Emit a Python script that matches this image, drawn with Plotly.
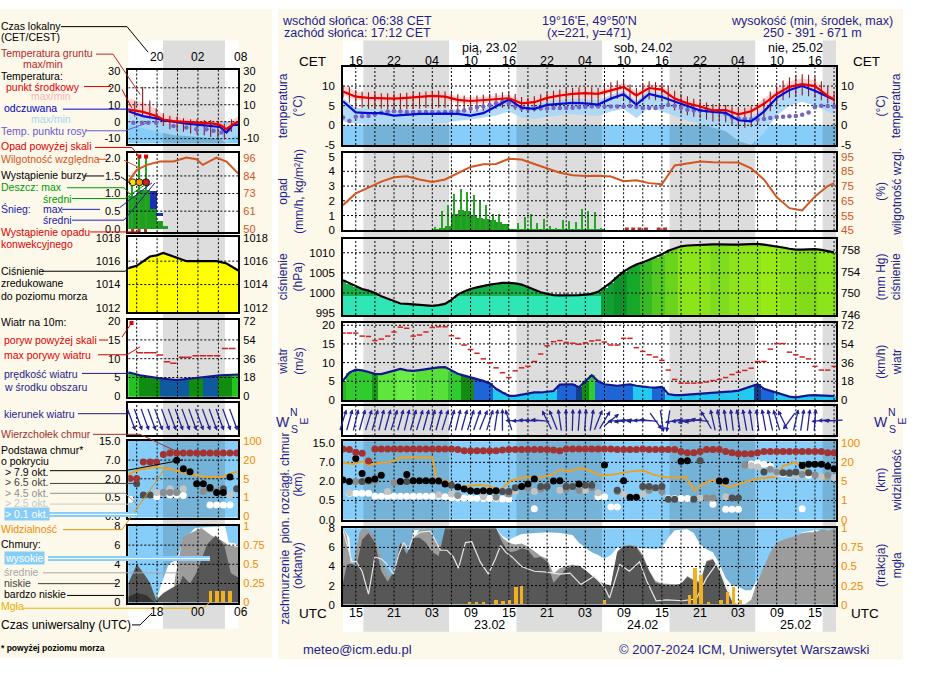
import numpy as np
import plotly.graph_objects as go

W, H = 930, 682
FONT = "Liberation Sans, Arial, Helvetica, sans-serif"
NAVY = "#1e1e8c"
ARROWC = "#24249a"
ORANGE = "#f08c00"
HUMC = "#d2561f"
CREAM = "#fcf8ea"
SKY = "#86cef9"
NIGHT = "rgba(0,0,0,0.135)"
TS_MAIN = 11.5
TS_MINI = 11
LEG_FS = 10.5

# ====================== DATA (main meteogram) ======================
hours = list(range(78))                      # hours since 22.02 13 UTC
t_knots = list(range(0, 77, 2)) + [77]

temp_mid = [8.6, 7.3, 7.0, 6.9, 6.8, 7.0, 7.2, 7.5, 7.3, 6.5, 6.2, 6.4, 6.7, 6.9, 5.6, 5.9, 7.0, 7.6, 8.0, 8.2,
            8.0, 8.9, 9.8, 7.6, 9.5, 9.1, 6.8, 5.6, 4.8, 3.8, 3.9, 2.8, 3.6, 5.5, 8.0, 9.8, 10.5, 10.0, 7.5, 6.6]
temp_max = [10.3, 8.6, 7.9, 7.8, 7.7, 7.9, 8.1, 8.4, 8.2, 7.4, 7.1, 7.3, 7.6, 7.8, 6.6, 6.8, 7.9, 8.5, 8.9, 9.1,
            8.9, 9.8, 10.8, 8.6, 10.5, 10.1, 7.8, 6.6, 5.8, 4.8, 4.9, 3.9, 4.8, 6.8, 9.3, 11.2, 12.0, 11.5, 8.8, 7.8]
temp_min = [7.6, 6.5, 6.2, 6.1, 6.0, 6.2, 6.4, 6.7, 6.5, 5.7, 5.4, 5.6, 5.9, 6.1, 4.8, 5.1, 6.2, 6.8, 7.2, 7.4,
            7.2, 8.1, 9.0, 6.8, 8.7, 8.3, 6.0, 4.8, 4.0, 3.0, 3.1, 1.9, 2.6, 4.3, 6.8, 8.8, 9.5, 9.0, 6.6, 5.6]
feel_mid = [6.1, 3.3, 3.1, 3.1, 2.5, 2.7, 2.9, 2.9, 3.0, 2.9, 2.5, 3.1, 4.8, 6.6, 4.5, 4.2, 5.2, 5.5, 5.7, 5.6,
            5.3, 6.8, 7.9, 5.3, 8.0, 7.2, 6.0, 4.8, 3.8, 3.4, 3.2, 1.3, 1.0, 3.5, 7.0, 9.0, 10.0, 8.8, 7.2, 6.5]
feel_max = [7.0, 4.5, 4.2, 4.1, 3.6, 3.8, 4.0, 4.0, 4.1, 4.0, 3.6, 4.2, 5.8, 7.4, 5.6, 5.3, 6.2, 6.5, 6.7, 6.6,
            6.3, 7.8, 8.9, 6.4, 9.0, 8.2, 7.0, 5.9, 4.9, 4.5, 4.3, 2.5, 2.2, 4.6, 8.0, 10.0, 11.0, 9.8, 8.2, 7.5]
feel_min = [1.0, 0.5, 0.3, 0.2, 0.0, 0.2, 0.3, 0.4, 0.6, 1.2, 1.5, 2.0, 2.5, 3.5, 2.0, 1.6, 2.2, 2.6, 2.8, 2.6,
            2.4, 3.5, 4.2, 1.8, 4.5, 3.6, 2.4, 1.2, 0.4, -0.5, -1.5, -4.0, -5.0, -2.0, 2.5, 5.0, 6.0, 5.0, 3.5, 2.8]
dew_point = [2.0, 1.1, 2.2, 2.3, 2.4, 2.8, 3.2, 3.5, 3.6, 3.5, 3.4, 3.4, 3.4, 3.4, 3.4, 3.3, 3.4, 3.5, 3.6, 3.8,
             4.2, 4.6, 4.8, 5.2, 5.6, 6.1, 5.6, 4.8, 4.3, 4.2, 4.2, 4.3, 4.3, 4.4, 4.4, 4.4, 4.5, 4.6, 4.7, 4.8,
             4.8, 4.8, 4.8, 4.8, 4.8, 4.9, 4.7, 4.4, 4.4, 4.4, 4.6, 5.2, 5.0, 4.5, 4.0, 3.8, 3.8, 3.7, 3.6, 3.5,
             2.8, 2.0, 1.8, 1.6, 1.5, 1.5, 1.6, 1.9, 2.1, 2.2, 2.3, 2.4, 2.7, 3.3, 4.6, 5.0, 4.9, 4.8]
ground_max = [10.2, 9.8, 9.0, 8.6, 8.4, 8.3, 8.2, 8.2, 8.1, 8.2, 8.3, 8.4, 8.5, 8.6, 8.8, 8.8, 8.6, 8.3, 7.9, 7.6,
              7.5, 7.6, 7.8, 8.0, 8.2, 8.4, 8.5, 8.0, 7.2, 7.0, 7.4, 7.9, 8.4, 8.8, 9.1, 9.4, 9.6, 9.7, 9.8, 9.7,
              9.6, 10.4, 11.0, 11.4, 11.6, 10.4, 9.6, 10.6, 11.2, 11.0, 10.6, 9.8, 8.8, 8.0, 7.4, 6.8, 6.3, 5.8, 5.4, 5.2,
              5.2, 4.8, 4.4, 4.5, 4.8, 5.4, 6.8, 8.6, 10.0, 11.4, 12.2, 12.8, 13.0, 12.9, 12.4, 11.2, 9.8, 8.6]
ground_min = [7.0, 5.8, 4.8, 4.4, 4.2, 4.2, 4.2, 4.1, 4.0, 4.0, 4.1, 4.2, 4.3, 4.4, 4.5, 4.5, 4.4, 4.2, 3.8, 3.5,
              3.4, 3.5, 3.6, 3.9, 4.2, 4.5, 4.6, 4.0, 3.4, 3.3, 3.5, 4.0, 4.4, 4.8, 5.0, 5.2, 5.3, 5.4, 5.4, 5.3,
              5.2, 5.8, 6.4, 6.8, 6.6, 5.6, 5.2, 6.0, 6.6, 6.4, 6.0, 5.0, 3.8, 3.0, 2.6, 2.2, 1.8, 1.4, 1.0, 0.8,
              0.8, 0.2, -0.4, -0.6, -0.4, 0.4, 2.0, 3.6, 5.2, 6.4, 7.0, 7.4, 7.6, 7.4, 7.0, 6.4, 5.6, 5.0]

humidity = [62, 70, 74, 78, 81, 81.6, 79.5, 77.8, 79.5, 83.5, 88, 89.8, 90, 93.5, 93, 90, 87, 84, 82.3, 81.8,
            82, 81.5, 78.3, 79, 77, 76.2, 89, 90.5, 91.6, 91.2, 91.2, 91.0, 87, 79.5, 67.5, 60, 58.5, 68, 75, 77]
rain_mean_h = list(range(14, 41))
rain_mean = [0.05, 0.1, 0.3, 1.1, 1.32, 1.28, 0.95, 0.8, 0.76, 0.65, 0.55, 0.42, 0.06, 0.04, 0.05, 0.05, 0.04,
             0.05, 0.03, 0.02, 0.04, 0.04, 0.04, 0.06, 0.06, 0.05, 0.02]
rain_max_h = [14.5, 15.5, 16.5, 17.5, 18.5, 19.5, 20.5, 21.5, 22.5, 23.5, 24.5, 25.5,
              27.5, 28.5, 29.5, 30.5, 31.5, 32.5, 33.5, 34.5, 35.5, 36.5, 37.5, 38.5, 39.5, 40.5]
rain_max = [0.2, 1.27, 1.7, 2.44, 2.77, 2.55, 2.37, 2.0, 1.67, 1.1, 1.05, 0.25,
            0.44, 0.9, 1.05, 0.5, 0.75, 0.3, 0.15, 0.64, 0.6, 0.55, 1.4, 1.3, 1.25, 0.1]
convective_h = [44.5, 45.5, 46.5, 47.5, 49.5, 50.5]

pressure = [1003.2, 1002.4, 1001.6, 1001.0, 1000.6, 1000.0, 999.2, 998.6, 997.9, 997.4,
            997.3, 997.2, 997.1, 997.0, 996.8, 997.0, 997.3, 998.3, 999.6, 1000.4,
            1001.0, 1001.4, 1001.8, 1002.1, 1002.3, 1002.5, 1002.5, 1002.4, 1002.1, 1001.5,
            1000.8, 1000.2, 999.8, 999.5, 999.4, 999.4, 999.4, 999.5, 999.6, 999.8,
            1000.3, 1001.4, 1002.6, 1004.0, 1005.3, 1006.3, 1007.1, 1007.6, 1008.2, 1008.8,
            1009.6, 1010.5, 1011.1, 1011.6, 1011.8, 1011.9, 1012.0, 1012.1, 1012.1, 1012.1,
            1012.0, 1012.0, 1012.0, 1012.1, 1012.2, 1012.2, 1012.0, 1011.8, 1011.6, 1011.3,
            1011.0, 1010.8, 1010.8, 1010.9, 1010.9, 1010.7, 1010.4, 1010.1]

wind_speed = [5.1, 7.3, 8.1, 7.9, 7.5, 7.0, 6.9, 7.3, 7.9, 8.3, 7.9, 7.8, 8.0, 8.3, 8.6, 8.7, 8.8, 7.8, 7.0, 6.5,
              6.1, 5.7, 5.1, 4.4, 3.0, 2.0, 1.1, 1.1, 1.4, 1.7, 2.0, 2.0, 2.1, 2.4, 4.1, 4.2, 4.2, 3.4, 5.0, 6.6,
              5.0, 4.2, 4.0, 3.8, 4.0, 4.2, 3.8, 3.5, 3.4, 3.3, 3.5, 1.6, 1.3, 1.3, 1.4, 1.5, 1.6, 1.7, 1.8, 2.0,
              2.2, 2.3, 2.5, 3.0, 3.6, 4.2, 3.0, 2.5, 2.0, 1.4, 0.9, 0.7, 1.0, 1.2, 1.3, 1.2, 1.0, 1.0]
wind_gust = [17.9, 17.9, 17.9, 17.1, 17.0, 15.9, 16.3, 17.1, 18.2, 19.5, 19.2, 17.1, 17.4, 18.2, 19.4, 19.6, 19.6, 17.2, 16.5, 14.7,
             13.5, 12.5, 11.0, 9.9, 8.6, 7.3, 6.0, 7.8, 8.6, 9.0, 10.3, 12.3, 14.5, 15.6, 15.9, 15.4, 15.2, 14.9, 15.3, 15.8,
             16.0, 15.5, 14.7, 14.7, 16.5, 16.5, 14.0, 13.0, 12.1, 11.5, 10.6, 8.0, 5.5, 4.5, 4.5, 4.5, 4.6, 4.8, 5.2, 5.5,
             6.0, 6.8, 7.4, 7.9, 8.5, 10.3, 10.3, 13.6, 15.1, 15.1, 12.8, 12.1, 11.5, 11.0, 9.0, 8.0, 8.0, 9.0]
wind_dir = [200, 198, 196, 198, 200, 198, 196, 198, 200, 198, 196, 198, 200, 198, 196, 198, 200, 198, 196, 198,
            200, 202, 205, 200, 190, 180, 160, 90, 88, 92, 90, 95, 150, 155, 170, 178, 182, 185, 185, 190,
            205, 215, 235, 85, 82, 88, 85, 90, 95, 320, 350, 10, 80, 85, 78, 82, 95, 145, 165, 168,
            170, 172, 170, 168, 170, 172, 168, 165, 160, 150, 40, 195, 190, 188, 185, 85, 90, 88]

cloud_top = [12.6, 12.4, 11.2, 10.8, 7.6, 12.6, 12.6, 12.6, 12.6, 12.6, 12.6, 12.6, 12.6, 12.6, 12.6, 12.6, 12.6, 12.6, 12.4, 11.9,
             11.9, 11.9, 11.9, 11.9, 11.9, 12.2, 12.4, 12.4, 12.4, 12.4, 12.4, 12.4, 12.4, 12.2, 11.9, 12.6, 12.6, 12.6, 12.6, 12.6,
             12.6, 12.6, 12.6, 12.4, 12.4, 12.4, 12.4, 12.6, 12.4, 12.4, 12.4, 12.4, 12.4, 11.6, 11.0, 11.0, 11.6, 12.4, 12.4, 12.4,
             11.6, 11.0, 10.6, 10.6, 10.6, 11.0, 11.6, 11.6, 11.6, 11.6, 11.6, 11.6, 11.6, 11.6, 11.6, 11.6, 11.0, 11.0]
base_black = [(0, 2.4), (1, 2.0), (2, 8.6), (3, 4.1), (4, 2.3), (5, 2.6), (6, 3.6), (9, 2.0), (10, 3.8), (11, 2.2),
              (12, 2.2), (13, 2.2), (14, 2.1), (15, 2.1), (16, 1.8), (18, 1.55), (19, 1.4), (20, 1.27), (21, 1.22),
              (22, 1.27), (23, 1.22), (24, 1.27), (28, 1.6), (29, 1.8), (30, 2.6), (33, 2.1), (34, 2.2), (37, 1.8),
              (41, 6.3), (44, 2.2), (45, 0.75), (46, 0.75), (53, 7.5), (54, 7.7), (59, 2.1), (60, 2.1), (72, 6.2),
              (73, 6.5), (74, 6.5), (75, 6.5), (76, 6.0), (77, 5.3)]
base_dgray = [(3, 2.0), (10, 2.0), (17, 1.7), (25, 1.2), (26, 1.2), (27, 1.5), (31, 1.6), (32, 1.6), (35, 1.6),
              (36, 1.6), (38, 1.7), (39, 1.7), (43, 1.3), (47, 1.6), (48, 1.6), (49, 1.5), (50, 1.6), (51, 0.6),
              (52, 0.6), (55, 0.6), (56, 7.7), (61, 0.7), (62, 0.7), (66, 4.5), (69, 4.3), (70, 4.3), (71, 4.5), (73, 4.3)]
base_gray = [(2, 2.0), (4, 2.0), (5, 2.1), (8, 1.9), (18, 0.9), (24, 0.75), (26, 1.0), (29, 1.5), (31, 1.4),
             (35, 1.4), (37, 1.3), (39, 1.5), (43, 1.2), (48, 1.3), (50, 1.2), (57, 0.7), (58, 0.7), (63, 6.3),
             (67, 5.2), (68, 4.4), (70, 4.0), (72, 3.8), (74, 3.7), (76, 3.6)]
base_lgray = [(1, 1.1), (7, 1.2), (15, 0.95), (17, 1.0), (22, 0.8), (27, 1.2), (30, 1.2), (34, 1.3), (38, 1.3),
              (40, 1.1), (44, 1.0), (47, 1.0), (56, 0.7), (60, 0.8), (64, 6.2), (65, 5.8), (71, 3.4), (75, 3.2), (77, 3.0)]
base_white = [(1, 1.07), (2, 1.07), (3, 1.07), (4, 1.07), (5, 0.83), (6, 0.83), (7, 0.83), (8, 0.83), (9, 0.83),
              (10, 0.83), (11, 0.83), (12, 0.83), (13, 0.83), (14, 0.83), (15, 0.83), (16, 0.8), (17, 0.72), (18, 0.7),
              (19, 0.7), (20, 0.68), (21, 0.68), (22, 0.66), (23, 0.66), (24, 0.65), (25, 0.62), (26, 0.6), (30, 0.28),
              (40, 0.8), (41, 0.8), (42, 0.33), (43, 0.33), (51, 0.65), (52, 0.65), (53, 0.65), (54, 0.65), (58, 0.4),
              (60, 0.27), (61, 0.27), (62, 0.27), (64, 6.6), (65, 6.8), (66, 6.5), (67, 6.0), (68, 4.2), (69, 4.0),
              (70, 3.9), (72, 0.28), (73, 3.6)]
visibility = [(0, 19.6), (1.6, 18.8), (3, 23), (4.1, 18), (5.7, 19.6), (7.8, 23), (9, 41), (13.5, 41.5), (14, 40),
              (14.7, 6.7), (16.3, 5.4), (17.8, 3.8), (19.4, 4.0), (21.5, 4.3), (23, 4.0), (24.6, 3.2), (26.3, 5.5),
              (28.3, 8), (30.9, 8), (33, 10.5), (34, 14.4), (35.6, 13), (37.2, 15.6), (38.9, 13), (40.5, 9.5),
              (42.4, 10.5), (44.9, 12.7), (47, 13.7), (48.6, 10.5), (50.7, 8), (53.8, 8), (55.1, 3.1), (56.4, 4.4),
              (58, 6.2), (60.6, 3.8), (62.8, 4.8), (64.8, 7), (68, 8.8), (69, 17), (70.9, 21), (72.7, 13.7),
              (75.4, 7), (77.3, 10.5)]
cc_high = [(0, 8), (1, 7.0), (1.5, 2), (2.5, 2), (3, 5), (4, 6), (5, 3), (6, 1), (8, 1), (9, 4), (10, 3), (11, 7.8),
           (13, 7.9), (14, 6), (15, 2), (16, 3), (17, 8), (24, 8), (25, 7.2), (26, 6.8), (28, 7.4), (30, 7.5),
           (32, 7.6), (34, 7.5), (36, 7.3), (37, 6.5), (38, 6.0), (39, 5.5), (40, 5.2), (41, 4.8), (42, 5.2),
           (43, 6.0), (45, 6.1), (47, 5.9), (49, 5.8), (50, 6.0), (51, 7.0), (52, 7.8), (54, 7.9), (55, 7.5),
           (56, 6.3), (57, 5.8), (58, 5.5), (59, 4.3), (60, 2.8), (61, 2.0), (62, 1.9), (63, 1.5), (64, 1.5),
           (65, 2.6), (66, 3.8), (67, 5.0), (68, 5.8), (69, 6.5), (70, 6.8), (71, 7.0), (72, 7.6), (74, 7.8), (77.3, 7.9)]
cc_mid = [(0, 8), (0.6, 7.2), (1.4, 3.6), (2, 5.5), (2.6, 7.6), (3, 8), (4, 7.8), (4.7, 7.4), (5.5, 6.0), (6.5, 3.8),
          (7.3, 2.8), (8, 3.5), (8.8, 6.2), (9.5, 6.6), (10.2, 5.0), (11.2, 7.0), (12, 7.9), (13.5, 7.9), (14.5, 6.6),
          (15.5, 6.2), (16.3, 7.0), (17, 8), (24, 8), (25, 7.0), (26, 6.5), (27, 6.3), (28, 6.4), (29, 6.1), (30, 5.6),
          (31, 5.1), (32, 4.8), (33, 3.2), (34, 3.8), (35, 4.0), (36, 4.2), (37, 4.0), (38, 3.6), (39, 3.0), (40, 2.4),
          (41, 2.2), (42, 2.0), (43, 5.6), (44, 6.2), (46, 6.2), (47, 5.2), (48, 3.6), (49, 2.5), (50, 2.2), (53, 2.1),
          (54, 3.0), (55, 2.6), (56, 2.4), (57, 4.6), (58, 4.8), (59, 3.6), (60, 1.8), (61, 0.4), (62, 0), (63, 0),
          (64, 0.5), (65, 2.5), (66, 4.0), (67, 5.5), (68, 6.5), (69, 6.8), (70, 7.0), (71, 7.2), (72, 7.5), (73, 7.6),
          (74, 7.6), (75, 7.9), (76, 7.8), (77.3, 8)]
cc_low = [(0, 2.3), (0.6, 4.2), (1.4, 4.3), (2.1, 4.0), (3, 6.8), (4, 7.5), (5, 6.5), (6, 3.5), (7, 2.4), (8, 3.5),
          (9, 6.5), (10, 5.3), (11, 7.0), (12, 7.0), (13, 6.5), (14, 5.5), (15, 5.1), (16, 8), (24, 8), (25, 6.5),
          (26, 5.5), (27, 5.6), (28, 5.9), (29, 5.7), (30, 4.9), (31, 5.0), (32, 4.5), (33, 2.3), (34, 3.0), (35, 3.8),
          (36, 4.0), (37, 4.1), (38, 3.6), (39, 3.0), (40, 2.5), (41, 2.1), (42, 2.0), (43, 5.5), (44, 6.1), (45, 6.2),
          (46, 6.0), (47, 5.0), (48, 3.5), (49, 2.3), (50, 2.1), (51, 2.0), (52, 2.0), (53, 2.2), (54, 2.9), (55, 2.5),
          (56, 2.2), (57, 4.5), (58, 4.7), (59, 3.5), (60, 1.7), (61, 0.3), (62, 0), (77.3, 0)]
cc_line = [(0, 7.8), (1.4, 4.5), (2.1, 4.5), (3, 3.5), (4, 1.1), (5, 5.0), (6, 4.8), (6.8, 4.3), (7.9, 3.2), (8.7, 5.2),
           (9.5, 6.5), (10.3, 5.8), (11, 7.1), (12.1, 7.6), (13.7, 7.7), (14.4, 6.8), (15.3, 5.7), (16.3, 5.7),
           (17.3, 5.0), (18.1, 3.8), (19.2, 6.5), (20.2, 6.6), (21.5, 4.5), (22.8, 3.2), (23.9, 4.8), (24.7, 6.2),
           (25.5, 5.5), (26.5, 5.0), (28, 4.0), (30, 3.5), (32, 3.4), (34, 3.2), (35.6, 3.3), (37.3, 2.1), (39.4, 3.0),
           (41, 1.8), (41.8, 0.7), (43.4, 4.2), (44.9, 3.5), (46.5, 4.5), (47.6, 2.5), (49.1, 0.4), (50.7, 0.5),
           (53.3, 0.4), (55.4, 0.6), (57, 2.8), (58.6, 4.3), (60.2, 1.9), (61.2, 0.3), (62, 0)]
fog = [(19.8, 0.03), (20.9, 0.03), (22, 0.03), (24, 0.06), (25.1, 0.04), (26.1, 0.06), (27.1, 0.23), (28, 0.24),
       (41, 0.06), (54.3, 0.12), (55.2, 0.48), (56.1, 0.38), (57.3, 0.03), (59.3, 0.06), (60.3, 0.16), (61.2, 0.22),
       (62.3, 0.06)]

nights = [(3.2, 16.63), (27.2, 40.63), (51.2, 64.63), (75.2, 77.3)]
label_h = [2, 8, 14, 20, 26, 32, 38, 44, 50, 56, 62, 68, 74]
cet_labels = ["16", "22", "04", "10", "16", "22", "04", "10", "16", "22", "04", "10", "16"]
utc_labels = ["15", "21", "03", "09", "15", "21", "03", "09", "15", "21", "03", "09", "15"]
day_h = [23, 47, 71]
day_top = ["pią, 23.02", "sob, 24.02", "nie, 25.02"]
day_bot = ["23.02", "24.02", "25.02"]

# ====================== DATA (legend mini meteogram) ======================
mini_tx = [0, 2.05, 3.95, 4.9, 6.3, 8.1, 10.0, 11.9, 12.8, 13.7, 14.6, 15.35]
mini_temp = [7.1, 5.8, 3.3, 1.3, 0.3, -0.2, -0.6, -1.2, -1.9, -4.4, -1.5, 0.0]
mini_temp_max = [14.0, 11.5, 7.5, 4.5, 3.0, 2.0, 1.5, 1.0, 0.5, -1.5, 1.5, 3.0]
mini_temp_min = [4.0, 3.0, 1.0, -0.8, -1.6, -2.0, -2.6, -3.2, -3.8, -6.0, -3.2, -1.6]
mini_feel = [6.2, 3.3, 1.9, 0.7, 0.0, -1.2, -1.9, -2.5, -3.1, -6.4, -1.9, -1.9]
mini_feel_max = [6.8, 4.0, 2.5, 1.2, 0.5, -0.7, -1.4, -2.0, -2.6, -5.8, -1.4, -1.4]
mini_feel_min = [-2.0, -4.0, -6.0, -7.0, -8.0, -8.5, -9.0, -9.5, -10.0, -12.5, -9.0, -8.0]
mini_dew_x = [0.7, 1.9, 2.8, 3.9, 6.3, 8.1, 9.5, 10.9, 11.9, 13.0, 14.1]
mini_dew = [-0.6, -0.6, -0.6, -0.6, -2.5, -3.5, -4.4, -4.4, -5.3, -6.4, -4.4]
mini_g_x = [0.9, 2.0, 3.0, 3.9, 4.9, 5.8, 6.8, 7.7, 8.7, 9.6, 10.6, 11.5, 12.5, 13.4, 14.4]
mini_g_max = [12.0, 20.5, 12.5, 8.0, 5.0, 3.5, 3.0, 2.0, 1.5, 1.5, 1.0, 1.0, 0.5, -1.0, 1.5]
mini_g_min = [3.0, 4.0, 2.0, -0.5, -2.5, -4.5, -5.5, -6.0, -7.0, -7.5, -8.0, -9.0, -9.5, -10.5, -6.0]

mini_rain_x = [0.6, 1.7, 2.6, 3.55, 4.45, 5.25]
mini_rain = [0.95, 1.12, 1.12, 0.56, 0.23, 0.1]
mini_snow_x = [3.55, 4.45]
mini_snow_base = [0.56, 0.36]
mini_snow = [0.52, 0.1]
mini_rmax_x = [0.62, 1.55, 2.48]
mini_rmax = [1.33, 2.05, 2.05]
mini_storm_colors = ["#ffe000", "#f0a000", "#d02020"]
mini_storm_y = [1.32, 1.32, 1.32]
mini_over_x = [1.55, 2.48]
mini_over_y = [2.05, 2.05]
mini_conv_x = [0.6, 1.5, 2.4]
mini_hum_x = [0, 1.2, 2.6, 4.4, 6.3, 8.1, 9.5, 10.4, 12.3, 13.7, 15.35]
mini_hum = [81, 88.5, 91.7, 93.9, 93.9, 96.5, 95.4, 91.7, 96.5, 93.9, 86]

mini_p_x = [0, 1.17, 3.03, 3.96, 4.88, 6.28, 8.15, 12.33, 13.72, 15.35]
mini_p = [1015.4, 1015.6, 1016.4, 1016.5, 1016.7, 1016.4, 1016.0, 1016.0, 1015.8, 1015.2]

mini_ws_bar_x = list(range(16))
mini_ws_bar = [6.4, 5.9, 5.5, 5.2, 4.9, 4.7, 4.5, 4.3, 4.5, 4.8, 5.0, 5.2, 5.4, 5.6, 5.7, 5.8]
mini_ws_x = [0, 1.63, 4.42, 6.74, 10.0, 12.8, 15.35]
mini_ws = [6.4, 5.6, 4.8, 4.3, 5.0, 5.6, 5.8]
mini_gust_x = [1.6, 2.6, 3.5, 4.4, 5.4, 6.3, 7.5, 8.4, 9.4, 10.4, 11.4, 12.4, 13.5, 14.5]
mini_gust = [11.6, 11.6, 11.6, 11.0, 9.2, 8.8, 10.4, 10.4, 10.8, 10.8, 10.8, 10.8, 12.7, 12.7]
mini_dir_x = [0.4, 1.35, 2.3, 3.25, 4.2, 5.15, 6.1, 7.05, 8.0, 8.95, 9.9, 10.85, 11.8, 12.75, 13.7, 14.65]
mini_dir = [335, 335, 335, 335, 335, 335, 335, 335, 335, 335, 335, 335, 335, 335, 335, 335]

mini_top_x = [0.24, 1.17, 2.1, 3.03, 3.96, 4.89, 5.82, 6.75, 7.68, 8.61, 9.54, 10.47, 11.4, 12.33, 13.26, 14.19, 15.12]
mini_top = [2.1, 2.1, 6.5, 6.5, 6.5, 9.4, 10.1, 10.1, 10.1, 10.1, 10.1, 10.1, 10.1, 10.1, 10.1, 10.1, 10.1]
mini_black = [(6.75, 7.0), (7.68, 4.7), (8.61, 3.9), (9.54, 1.6), (10.47, 1.6), (11.4, 1.3), (12.33, 0.9),
              (13.26, 0.9), (14.19, 2.5)]
mini_dgray = [(1.17, 1.6), (2.1, 0.7), (3.03, 0.7), (11.4, 1.2), (13.26, 1.2), (15.12, 1.2)]
mini_gray = [(4.89, 0.9), (5.82, 0.9), (6.75, 0.9), (10.47, 1.0), (12.33, 1.0)]
mini_lgray = [(3.96, 0.9), (5.82, 1.2), (7.68, 1.2), (14.19, 0.7)]
mini_white = [(0.24, 0.45), (3.96, 0.55), (5.82, 0.7), (6.75, 0.7), (7.68, 0.65), (11.4, 0.3), (12.33, 0.3),
              (13.26, 0.3), (14.19, 0.3)]
mini_vis_x = [0, 1.6, 3.9, 6.2, 8.6, 10.9, 12.8, 14.6, 15.35]
mini_vis = [8.6, 12.5, 14.5, 12.5, 8.6, 6.5, 6.5, 10.0, 11.0]
mini_cc_high = [(0, 0), (3.8, 0), (4.7, 2.1), (5.6, 4.0), (6.8, 4.5), (7.6, 6.4), (9.3, 7.8), (13.5, 8), (14, 6.3),
                (15.35, 6.1)]
mini_cc_mid = [(0, 0), (6.2, 0), (6.5, 2.5), (7.6, 6.8), (8.8, 7.3), (10.2, 7.8), (11.6, 7.0), (13, 6.5), (14, 6.0),
               (15.35, 5.8)]
mini_cc_low = [(0, 2.0), (1.2, 4.0), (2.1, 3.1), (3.0, 2.1), (3.9, 0.3), (4.9, 1.0), (6.0, 1.5), (7.2, 2.0),
               (7.6, 2.8), (8.6, 2.0), (9.5, 3.1), (11, 6.1), (12.2, 7.0), (13.4, 6.0), (14.3, 3.1), (15.35, 2.6)]
mini_cc_vlow = [(0, 0.6), (1.2, 1.0), (2.5, 0.8), (3.4, 0.2), (3.9, 0)]
mini_fog = [(11.5, 0.15), (12.4, 0.15), (13.25, 0.15), (14.2, 0.15)]
mini_night = (4.84, 13.49)

# ====================== helpers ======================
def px(x):
    return x / W


def py(y):
    return 1 - y / H


def aid(p, i):
    return p if i == 1 else f"{p}{i}"


def akey(p, i):
    return f"{p}axis" if i == 1 else f"{p}axis{i}"


CB_KM = [0, 0.5, 2, 7, 15]
VIS_KM = [0, 1, 5, 20, 100]


def cb_idx(v):
    return list(np.interp(v, CB_KM, [0, 1, 2, 3, 4]))


def vis_idx(v):
    return list(np.interp(v, VIS_KM, [0, 1, 2, 3, 4]))


def unzip(pairs):
    return [p[0] for p in pairs], [p[1] for p in pairs]


def seg_colors(segs, n):
    out = ["#000000"] * n
    for a, b, c in segs:
        for i in range(a, b + 1):
            out[i] = c
    return out


layout = dict(width=W, height=H, margin=dict(l=0, r=0, t=0, b=0), paper_bgcolor="white",
              plot_bgcolor="rgba(0,0,0,0)", showlegend=False, barmode="overlay", bargap=0,
              hovermode=False, font=dict(family=FONT, size=12, color="black"))
shapes, annots = [], []
fig = go.Figure()


def panel(ix, iyl, iyr, xdom, xrng, top, bot, yl_rng, yl_t, yl_txt, yr_rng, yr_t, yr_txt, yr_col="black", ts=TS_MAIN):
    layout[akey("x", ix)] = dict(domain=[px(xdom[0]), px(xdom[1])], range=xrng, anchor=aid("y", iyl),
                                 showticklabels=False, showgrid=False, zeroline=False, showline=True, mirror=True,
                                 linecolor="black", linewidth=1.6, ticks="", fixedrange=True)
    layout[akey("y", iyl)] = dict(domain=[py(bot), py(top)], range=yl_rng, anchor=aid("x", ix), side="left",
                                  showgrid=False, zeroline=False, showline=True, mirror=True, linecolor="black",
                                  linewidth=1.6, ticks="", tickmode="array", tickvals=yl_t, ticktext=yl_txt,
                                  showticklabels=bool(yl_t), tickfont=dict(size=ts, color="black", family=FONT),
                                  ticklabelstandoff=4, fixedrange=True)
    layout[akey("y", iyr)] = dict(overlaying=aid("y", iyl), range=yr_rng, anchor=aid("x", ix), side="right",
                                  showgrid=False, zeroline=False, showline=False, ticks="", tickmode="array",
                                  tickvals=yr_t, ticktext=yr_txt, showticklabels=bool(yr_t),
                                  tickfont=dict(size=ts, color=yr_col, family=FONT), ticklabelstandoff=4,
                                  fixedrange=True)
    fig.add_trace(go.Scatter(x=[xrng[0]], y=[yr_rng[0]], mode="markers", marker=dict(opacity=0),
                             xaxis=aid("x", ix), yaxis=aid("y", iyr), hoverinfo="skip"))


def grid(ix, iy, xv, yv, xr, yr):
    xs, ys = [], []
    for v in xv:
        xs += [v, v, None]
        ys += [yr[0], yr[1], None]
    for v in yv:
        xs += [xr[0], xr[1], None]
        ys += [v, v, None]
    fig.add_trace(go.Scatter(x=xs, y=ys, mode="lines", line=dict(color="black", width=1, dash="2px,2px"),
                             xaxis=aid("x", ix), yaxis=aid("y", iy), hoverinfo="skip"))


def sc(ix, iy, **kw):
    fig.add_trace(go.Scatter(xaxis=aid("x", ix), yaxis=aid("y", iy), hoverinfo="skip", **kw))


def bar(ix, iy, **kw):
    fig.add_trace(go.Bar(xaxis=aid("x", ix), yaxis=aid("y", iy), hoverinfo="skip", **kw))


def txt(s, x, y, size=12, color="black", xa="center", ya="middle", angle=0, bg=None, xref="paper", weight=None):
    d = dict(text=s, x=(px(x) if xref == "paper" else x), y=py(y), xref=xref, yref="paper", showarrow=False,
             xanchor=xa, yanchor=ya, textangle=angle, font=dict(size=size, color=color, family=FONT),
             borderpad=0)
    if bg:
        d["bgcolor"] = bg
    if weight:
        d["font"]["weight"] = weight
    annots.append(d)


def polyline(pts, color, width=1):
    path = "M " + " L ".join(f"{px(a):.5f},{py(b):.5f}" for a, b in pts)
    shapes.append(dict(type="path", path=path, xref="paper", yref="paper", line=dict(color=color, width=width),
                       layer="above"))


def rect_paper(x0, y0, x1, y1, color):
    shapes.append(dict(type="rect", xref="paper", yref="paper", x0=px(x0), x1=px(x1), y0=py(y1), y1=py(y0),
                       fillcolor=color, line=dict(width=0), layer="below"))


def arrows(ix, iy, xs, dirs, ppu_x, ppu_y, lx, ly):
    for h, d in zip(xs, dirs):
        th = np.deg2rad(d + 180)
        ux, uy = np.sin(th), np.cos(th)
        dx = lx * ux / ppu_x
        dy = ly * uy / ppu_y
        annots.append(dict(x=h + dx / 2, y=0.5 + dy / 2, ax=h - dx / 2, ay=0.5 - dy / 2,
                           xref=aid("x", ix), yref=aid("y", iy), axref=aid("x", ix), ayref=aid("y", iy),
                           showarrow=True, arrowhead=2, arrowsize=0.7, arrowwidth=1.3, arrowcolor=ARROWC,
                           text="", standoff=0))


# ====================== backgrounds ======================
MX0, MX1 = 343, 836
HR = [0, 77.3]
SX0, SX1 = 128.3, 238.3
MR = [0, 15.35]
PPH = (MX1 - MX0) / HR[1]
PPM = (SX1 - SX0) / MR[1]

rect_paper(0, 3, 272, 664, CREAM)
rect_paper(278, 3, 903, 665, CREAM)
rect_paper(MX0, 35, MX1, 637, "white")
rect_paper(SX0, 35, SX1, 634, "white")
rect_paper(MX0, 443, MX1, 522.7, SKY)
rect_paper(MX0, 531.7, MX1, 609.3, SKY)
rect_paper(SX0, 442.7, SX1, 520.7, SKY)
rect_paper(SX0, 529.3, SX1, 607.3, SKY)
shapes.append(dict(type="rect", xref="paper", yref="y", x0=px(MX0), x1=px(MX1), y0=-5, y1=0, fillcolor=SKY,
                   line=dict(width=0), layer="below"))
shapes.append(dict(type="rect", xref="paper", yref="y15", x0=px(SX0), x1=px(SX1), y0=-13, y1=0, fillcolor=SKY,
                   line=dict(width=0), layer="below"))
for a, b in nights:
    shapes.append(dict(type="rect", xref="x", yref="paper", x0=a, x1=b, y0=py(637), y1=py(35), fillcolor=NIGHT,
                       line=dict(width=0), layer="below"))
shapes.append(dict(type="rect", xref="x8", yref="paper", x0=mini_night[0], x1=mini_night[1], y0=py(634),
                   y1=py(35), fillcolor=NIGHT, line=dict(width=0), layer="below"))

VG = list(range(2, 78, 3))
MVG = [1.17, 4.02, 6.87, 9.72, 12.57]

# ====================== MAIN PANELS ======================
# 1 temperature
T_R = [-5, 14.75]
panel(1, 1, 8, (MX0, MX1), HR, 62.5, 141.5, T_R, [-5, 0, 5, 10], ["-5", "0", "5", "10"],
      T_R, [-5, 0, 5, 10], ["-5", "0", "5", "10"])
sc(1, 1, x=t_knots, y=feel_min, mode="lines", line=dict(width=0, color="#b2dcf8"))
sc(1, 1, x=t_knots, y=feel_max, mode="lines", line=dict(width=0, color="#b2dcf8"), fill="tonexty",
   fillcolor="rgba(170,215,248,0.9)")
sc(1, 1, x=t_knots, y=temp_min, mode="lines", line=dict(width=0, color="#ffcaca"))
sc(1, 1, x=t_knots, y=temp_max, mode="lines", line=dict(width=0, color="#ffcaca"), fill="tonexty",
   fillcolor="rgba(255,200,200,0.8)")
grid(1, 1, VG, [0, 5, 10], HR, T_R)
gx, gy = [], []
for h, a, b in zip(hours, ground_min, ground_max):
    gx += [h, h, None]
    gy += [a, b, None]
sc(1, 1, x=gx, y=gy, mode="lines", line=dict(color="#8b1a1a", width=1.1))
sc(1, 1, x=hours, y=dew_point, mode="markers", marker=dict(color="#7464c4", size=4.5))
sc(1, 1, x=t_knots, y=feel_mid, mode="lines", line=dict(color="#0a0ad0", width=2.2))
sc(1, 1, x=t_knots, y=temp_mid, mode="lines", line=dict(color="#e60000", width=2.2))

# 2 precipitation / humidity
P_R = [0, 5.22]
H_R = [45, 97.2]
panel(2, 2, 9, (MX0, MX1), HR, 150, 228.3, P_R, [0, 1, 2, 3, 4, 5], ["0", "1", "2", "3", "4", "5"],
      H_R, [45, 55, 65, 75, 85, 95], ["45", "55", "65", "75", "85", "95"], yr_col=HUMC)
bar(2, 2, x=[h + 0.5 for h in rain_mean_h], y=rain_mean, width=1.0, marker=dict(color="#1f9e1f", line=dict(width=0)))
bar(2, 2, x=rain_max_h, y=rain_max, width=0.22, marker=dict(color="#25a825", line=dict(width=0)))
sc(2, 2, x=convective_h, y=[0.05] * len(convective_h), mode="markers",
   marker=dict(symbol="square", color="#b03030", size=4))
grid(2, 2, VG, [1, 2, 3, 4], HR, P_R)
sc(2, 9, x=t_knots, y=humidity, mode="lines", line=dict(color=HUMC, width=2))

# 3 pressure
PR_R = [994.55, 1013.53]
MM_R = [PR_R[0] * 0.750062, PR_R[1] * 0.750062]
panel(3, 3, 10, (MX0, MX1), HR, 236.7, 314.5, PR_R, [995, 1000, 1005, 1010], ["995", "1000", "1005", "1010"],
      MM_R, [746, 750, 754, 758], ["746", "750", "754", "758"])
p_colors = seg_colors([(0, 40, "#16b04a"), (41, 42, "#10a034"), (43, 44, "#0c942a"), (45, 46, "#18a82a"),
                       (47, 48, "#38ba26"), (49, 50, "#52c820"), (51, 52, "#6cd41c"), (53, 57, "#8ce41a"),
                       (58, 60, "#80dc1e"), (61, 65, "#8ee41a"), (66, 68, "#98ea16"), (69, 71, "#8ae21a"),
                       (72, 74, "#82dc1c"), (75, 77, "#8ce41a")], 78)
bar(3, 3, x=hours, y=pressure, width=1.0, marker=dict(color=p_colors, line=dict(width=0)))
cyan_h = [h for h in hours if h <= 40]
bar(3, 3, x=cyan_h, y=[min(pressure[h], 999.5) for h in cyan_h], width=1.0,
    marker=dict(color="#2ee6b6", line=dict(width=0)))
grid(3, 3, VG, [1000, 1005, 1010], HR, PR_R)
sc(3, 3, x=hours, y=pressure, mode="lines", line=dict(color="black", width=2.2))

# 4 wind
WS_R = [0, 20.6]
panel(4, 4, 11, (MX0, MX1), HR, 322.7, 401, WS_R, [0, 5, 10, 15, 20], ["0", "5", "10", "15", "20"],
      [0, 20.6 * 3.6], [0, 18, 36, 54, 72], ["0", "18", "36", "54", "72"])
w_colors = seg_colors([(0, 0, "#22b822"), (1, 4, "#2fcb2f"), (5, 5, "#1b9b1b"), (6, 8, "#5ee63c"),
                       (9, 11, "#6aee46"), (12, 16, "#58e03a"), (17, 18, "#2fcb2f"), (19, 20, "#128c12"),
                       (21, 23, "#1e66d8"), (24, 33, "#22caf2"), (34, 36, "#1e66d8"), (37, 37, "#123f8c"),
                       (38, 38, "#128c12"), (39, 39, "#2fcb2f"), (40, 45, "#1e66d8"), (46, 48, "#22caf2"),
                       (49, 50, "#1e66d8"), (51, 64, "#22caf2"), (65, 65, "#123f8c"), (66, 67, "#1e66d8"),
                       (68, 77, "#22caf2")], 78)
bar(4, 4, x=hours, y=wind_speed, width=1.0, marker=dict(color=w_colors, line=dict(width=0)))
grid(4, 4, VG, [5, 10, 15, 20], HR, WS_R)
sc(4, 4, x=hours, y=wind_speed, mode="lines", line=dict(color="#16168c", width=2.2))
gux, guy = [], []
for h, g in zip(hours, wind_gust):
    gux += [h - 0.42, h + 0.42, None]
    guy += [g, g, None]
sc(4, 4, x=gux, y=guy, mode="lines", line=dict(color="#d42020", width=1.5))

# 5 wind direction
panel(5, 5, 12, (MX0, MX1), HR, 407, 437, [0, 1], [], [], [0, 1], [], [])
grid(5, 5, VG, [], HR, [0, 1])
arrows(5, 5, hours, wind_dir, PPH, 30, 20, 24)

# 6 cloud base / visibility
CB_R = [0, 4.11]
panel(6, 6, 13, (MX0, MX1), HR, 443, 522.7, CB_R, [0, 1, 2, 3, 4], ["0.0", "0.5", "2.0", "7.0", "15.0"],
      CB_R, [0, 1, 2, 3, 4], ["0", "1", "5", "20", "100"], yr_col=ORANGE)
grid(6, 6, VG, [1, 2, 3], HR, CB_R)
vx, vy = unzip(visibility)
sc(6, 6, x=vx, y=vis_idx(vy), mode="lines", line=dict(color="#eca024", width=2))
for pairs, col in [(base_white, "#ffffff"), (base_lgray, "#c4c4c4"), (base_gray, "#8c8c8c"),
                   (base_dgray, "#4e4e4e"), (base_black, "#000000")]:
    bx, by = unzip(pairs)
    sc(6, 6, x=bx, y=cb_idx(by), mode="markers", marker=dict(color=col, size=7, line=dict(width=0)))
sc(6, 6, x=hours, y=cb_idx(cloud_top), mode="markers", marker=dict(color="#a33232", size=7))

# 7 cloud cover / fog
panel(7, 7, 14, (MX0, MX1), HR, 531.7, 609.3, [0, 8], [0, 2, 4, 6, 8], ["0", "2", "4", "6", "8"],
      [0, 1], [0, 0.25, 0.5, 0.75, 1], ["0", "0.25", "0.5", "0.75", "1"], yr_col=ORANGE)
for pairs, col in [(cc_high, "#ffffff"), (cc_mid, "#9c9c9c"), (cc_low, "#575757")]:
    cx, cy = unzip(pairs)
    sc(7, 7, x=cx, y=cy, mode="lines", line=dict(width=0, color=col), fill="tozeroy", fillcolor=col)
lx_, ly_ = unzip(cc_line)
sc(7, 7, x=lx_, y=ly_, mode="lines", line=dict(color="#e6e6e6", width=1.2))
grid(7, 7, VG, [2, 4, 6], HR, [0, 8])
fx, fy = unzip(fog)
bar(7, 14, x=fx, y=fy, width=0.55, marker=dict(color="#f2b01e", line=dict(width=0)))

# ====================== MINI (legend) PANELS ======================
# M1 temperature
MT_R = [-12.9, 30.6]
panel(8, 15, 22, (SX0, SX1), MR, 65, 140, MT_R, [-10, 0, 10, 20, 30], ["-10", "0", "10", "20", "30"],
      MT_R, [-10, 0, 10, 20, 30], ["-10", "0", "10", "20", "30"], ts=TS_MINI)
sc(8, 15, x=mini_tx, y=mini_feel_min, mode="lines", line=dict(width=0, color="#b2dcf8"))
sc(8, 15, x=mini_tx, y=mini_feel_max, mode="lines", line=dict(width=0, color="#b2dcf8"), fill="tonexty",
   fillcolor="rgba(170,215,248,0.9)")
sc(8, 15, x=mini_tx, y=mini_temp_min, mode="lines", line=dict(width=0, color="#ffcaca"))
sc(8, 15, x=mini_tx, y=mini_temp_max, mode="lines", line=dict(width=0, color="#ffcaca"), fill="tonexty",
   fillcolor="rgba(255,200,200,0.8)")
grid(8, 15, MVG, [-10, 0, 10, 20], MR, MT_R)
mgx, mgy = [], []
for h, a, b in zip(mini_g_x, mini_g_min, mini_g_max):
    mgx += [h, h, None]
    mgy += [a, b, None]
sc(8, 15, x=mgx, y=mgy, mode="lines", line=dict(color="#8b1a1a", width=1.1))
sc(8, 15, x=mini_dew_x, y=mini_dew, mode="markers", marker=dict(color="#7464c4", size=4.5))
sc(8, 15, x=mini_tx, y=mini_feel, mode="lines", line=dict(color="#0a0ad0", width=2.2))
sc(8, 15, x=mini_tx, y=mini_temp, mode="lines", line=dict(color="#e60000", width=2.2))

# M2 precipitation
MP_R = [-0.09, 2.16]
MH_R = [50 - 0.09 * 23, 50 + 2.16 * 23]
panel(9, 16, 23, (SX0, SX1), MR, 149.3, 230, MP_R, [0, 0.5, 1, 1.5, 2], ["0.0", "0.5", "1.0", "1.5", "2.0"],
      MH_R, [50, 61.5, 73, 84.5, 96], ["50", "61", "73", "84", "96"], yr_col=HUMC, ts=TS_MINI)
bar(9, 16, x=mini_rain_x, y=mini_rain, width=[1.2, 1.0, 0.9, 0.95, 0.9, 0.7],
    marker=dict(color="#1f9e1f", line=dict(width=0)))
bar(9, 16, x=mini_snow_x, y=mini_snow, base=mini_snow_base, width=0.95,
    marker=dict(color="#1c30b4", line=dict(width=0)))
bar(9, 16, x=mini_rmax_x, y=mini_rmax, width=0.2, marker=dict(color="#25a825", line=dict(width=0)))
grid(9, 16, MVG, [0.5, 1.0, 1.5], MR, MP_R)
sc(9, 16, x=mini_rmax_x, y=mini_storm_y, mode="markers",
   marker=dict(color=mini_storm_colors, size=7, line=dict(color="black", width=0.8)))
sc(9, 16, x=mini_over_x, y=mini_over_y, mode="markers", marker=dict(symbol="square", color="#e00000", size=4))
sc(9, 16, x=mini_conv_x, y=[-0.05] * 3, mode="markers", marker=dict(symbol="square", color="#b03030", size=3))
sc(9, 23, x=mini_hum_x, y=mini_hum, mode="lines", line=dict(color=HUMC, width=2))

# M3 pressure
MPR_R = [1011.63, 1018.08]
panel(10, 17, 24, (SX0, SX1), MR, 235, 311.7, MPR_R, [1012, 1014, 1016, 1018], ["1012", "1014", "1016", "1018"],
      MPR_R, [1012, 1014, 1016, 1018], ["1012", "1014", "1016", "1018"], ts=TS_MINI)
sc(10, 17, x=mini_p_x, y=mini_p, mode="lines", line=dict(width=0, color="#ffff00"), fill="tozeroy",
   fillcolor="#ffff00")
bar(10, 17, x=[4.42], y=[1016.6], width=0.92, marker=dict(color="#ffc800", line=dict(width=0)))
grid(10, 17, MVG, [1014, 1016], MR, MPR_R)
sc(10, 17, x=mini_p_x, y=mini_p, mode="lines", line=dict(color="black", width=2.2))

# M4 wind
MW_R = [-0.1, 20.37]
panel(11, 18, 25, (SX0, SX1), MR, 319.3, 397.7, MW_R, [0, 5, 10, 15, 20], ["0", "5", "10", "15", "20"],
      [MW_R[0] * 3.6, MW_R[1] * 3.6], [0, 18, 36, 54, 72], ["0", "18", "36", "54", "72"], ts=TS_MINI)
mw_colors = seg_colors([(0, 1, "#22c422"), (2, 4, "#108c10"), (5, 8, "#0f5a9e"), (9, 10, "#108c10"),
                        (11, 12, "#0f5a9e"), (13, 14, "#108c10"), (15, 15, "#22c422")], 16)
bar(11, 18, x=mini_ws_bar_x, y=mini_ws_bar, width=1.0, marker=dict(color=mw_colors, line=dict(width=0)))
grid(11, 18, MVG, [5, 10, 15], MR, MW_R)
sc(11, 18, x=mini_ws_x, y=mini_ws, mode="lines", line=dict(color="#16168c", width=2.2))
mgux, mguy = [], []
for h, g in zip(mini_gust_x, mini_gust):
    mgux += [h - 0.45, h + 0.45, None]
    mguy += [g, g, None]
sc(11, 18, x=mgux, y=mguy, mode="lines", line=dict(color="#d42020", width=1.5))
sc(11, 18, x=[0.45], y=[19.5], mode="markers", marker=dict(symbol="square", color="#e00000", size=4))

# M5 wind direction
panel(12, 19, 26, (SX0, SX1), MR, 404, 436.7, [0, 1], [], [], [0, 1], [], [])
grid(12, 19, MVG, [], MR, [0, 1])
arrows(12, 19, mini_dir_x, mini_dir, PPM, 32.7, 20, 26)

# M6 cloud base
MCB_R = [-0.074, 4.03]
panel(13, 20, 27, (SX0, SX1), MR, 442.7, 520.7, MCB_R, [0, 1, 2, 3, 4], ["0.0", "0.5", "2.0", "7.0", "15.0"],
      MCB_R, [0, 1, 2, 3, 4], ["0", "1", "5", "20", "100"], yr_col=ORANGE, ts=TS_MINI)
grid(13, 20, MVG, [1, 2, 3], MR, MCB_R)
sc(13, 20, x=mini_vis_x, y=vis_idx(mini_vis), mode="lines", line=dict(color="#eca024", width=2))
for pairs, col in [(mini_white, "#ffffff"), (mini_lgray, "#c4c4c4"), (mini_gray, "#8c8c8c"),
                   (mini_dgray, "#4e4e4e"), (mini_black, "#000000")]:
    bx, by = unzip(pairs)
    sc(13, 20, x=bx, y=cb_idx(by), mode="markers", marker=dict(color=col, size=7, line=dict(width=0)))
sc(13, 20, x=mini_top_x, y=cb_idx(mini_top), mode="markers", marker=dict(color="#a33232", size=7))

# M7 cloud cover
panel(14, 21, 28, (SX0, SX1), MR, 529.3, 607.3, [0, 8], [0, 2, 4, 6, 8], ["0", "2", "4", "6", "8"],
      [0, 1], [0, 0.25, 0.5, 0.75, 1], ["0", "0.25", "0.5", "0.75", "1"], yr_col=ORANGE, ts=TS_MINI)
for pairs, col in [(mini_cc_high, "#ffffff"), (mini_cc_mid, "#9c9c9c"), (mini_cc_low, "#575757"),
                   (mini_cc_vlow, "#333333")]:
    cx, cy = unzip(pairs)
    sc(14, 21, x=cx, y=cy, mode="lines", line=dict(width=0, color=col), fill="tozeroy", fillcolor=col)
grid(14, 21, MVG, [2, 4, 6], MR, [0, 8])
mfx, mfy = unzip(mini_fog)
bar(14, 28, x=mfx, y=mfy, width=0.5, marker=dict(color="#f2b01e", line=dict(width=0)))

# ====================== TEXT ======================
# header
txt("wschód słońca: 06:38 CET", 357, 15, 12.5, NAVY)
txt("zachód słońca: 17:12 CET", 357, 27, 12.5, NAVY)
txt("19°16'E, 49°50'N", 589, 15, 12.5, NAVY)
txt("(x=221, y=471)", 589, 27, 12.5, NAVY)
txt("wysokość (min, środek, max)", 812, 15, 12.5, NAVY)
txt("250 - 391 - 671 m", 812, 27, 12.5, NAVY)
for h, s in zip(day_h, day_top):
    txt(s, h, 43, 12.5, "black", xref="x")
for h, s in zip(label_h, cet_labels):
    txt(s, h, 56, 12.5, "black", xref="x")
for h, s in zip(label_h, utc_labels):
    txt(s, h, 618, 12.5, "black", xref="x")
for h, s in zip(day_h, day_bot):
    txt(s, h, 630, 12.5, "black", xref="x")
txt("CET", 312, 56, 13.5)
txt("CET", 866, 56, 13.5)
txt("UTC", 313, 618, 13.5)
txt("UTC", 865, 618, 13.5)
txt("meteo@icm.edu.pl", 357, 655, 13, NAVY)
txt("© 2007-2024 ICM, Uniwersytet Warszawski", 744, 655, 13, NAVY)

# axis titles
left_titles = [("temperatura<br>(°C)", 102), ("opad<br>(mm/h, kg/m²/h)", 189), ("ciśnienie<br>(hPa)", 276),
               ("wiatr<br>(m/s)", 362)]
for s, y in left_titles:
    txt(s, 291, y, 12, NAVY, angle=-90)
txt("zachmurzenie  pion. rozciągł. chmur", 285, 532, 12, NAVY, angle=-90)
txt("(oktanty)", 298, 570, 12, NAVY, angle=-90)
txt("(km)", 298, 487, 12, NAVY, angle=-90)
right_titles = [("(°C)<br>temperatura", 102), ("(%)<br>wilgotność wzgl.", 189), ("(mm Hg)<br>ciśnienie", 276),
                ("(km/h)<br>wiatr", 362), ("(km)<br>widzialność", 483), ("(frakcja)<br>mgła", 570)]
for s, y in right_titles:
    txt(s, 889, y, 12, NAVY, angle=-90)
for cx, cy in [(289, 421), (887, 421)]:
    txt("W", cx - 6, cy + 2, 14, NAVY)
    txt("N", cx + 5, cy - 8, 10.5, NAVY)
    txt("S", cx + 5, cy + 10, 10.5, NAVY)
    txt("E", cx + 15, cy + 2, 10.5, NAVY, angle=-90)

# mini time labels
for s, x in [("20", 157), ("02", 198), ("08", 241)]:
    txt(s, x, 52, 12)
for s, x in [("18", 157), ("00", 198), ("06", 241)]:
    txt(s, x, 617, 12)

# legend labels
RED = "#e00000"
DRED = "#b42828"
GRN = "#009a00"
BLU = "#2020b0"
LEG = [
    ("Czas lokalny", 0, 20, "black"), ("(CET/CEST)", 0, 32, "black"),
    ("Temperatura gruntu", 0, 48, DRED), ("max/min", 22, 59, DRED),
    ("Temperatura:", 0, 71, "black"), ("punkt środkowy", 5, 82, RED), ("max/min", 30, 92, "#ffb4b4"),
    ("odczuwana", 3, 104, "#0000c8"), ("max/min", 30, 115, "#a8d4f4"), ("Temp. punktu rosy", 0, 127, "#6a5acd"),
    ("Opad powyżej skali", 0, 143, RED), ("Wilgotność względna", 0, 156, HUMC),
    ("Wystąpienie burzy", 0, 172, "black"), ("Deszcz: max", 0, 184, GRN), ("średni", 42, 196, GRN),
    ("Śnieg:", 0, 207, BLU), ("max", 42, 207, BLU), ("średni", 42, 218, BLU),
    ("Wystąpienie opadu", 0, 230, RED), ("konwekcyjnego", 0, 242, RED),
    ("Ciśnienie", 0, 270, "black"), ("zredukowane", 0, 282, "black"), ("do poziomu morza", 0, 295, "black"),
    ("Wiatr na 10m:", 0, 322, "black"), ("poryw powyżej skali", 3, 340, RED), ("max porywy wiatru", 3, 355, RED),
    ("prędkość wiatru", 3, 375, NAVY), ("w środku obszaru", 3, 388, NAVY), ("kierunek wiatru", 3, 415, NAVY),
    ("Wierzchołek chmur", 0, 436, "#a03232"), ("Podstawa chmur*", 0, 452, "black"), ("o pokryciu", 0, 463, "black"),
    ("> 7.9 okt.", 4, 474, "black"), ("> 6.5 okt.", 4, 485, "#404040"), ("> 4.5 okt.", 4, 496, "#909090"),
    ("> 2.5 okt.", 4, 506, "#c8c8c8"),
    ("Widzialność", 0, 532, ORANGE), ("Chmury:", 0, 548, "black"),
    ("średnie", 3, 576, "#a8a8a8"), ("niskie", 3, 587, "#404040"), ("bardzo niskie", 3, 599, "black"),
    ("Mgła", 0, 611, "#e8b000"),
]
for s, x, y, c in LEG:
    txt(s, x, y, LEG_FS, c, xa="left")
txt("> 0.1 okt.", 4, 517, LEG_FS, "white", xa="left", bg=SKY)
txt("wysokie", 4, 562, LEG_FS, "white", xa="left", bg=SKY)
txt("Czas uniwersalny (UTC)", 0, 630, 12, "black", xa="left")
txt("* powyżej poziomu morza", 0, 654, 8.5, "black", xa="left", weight="bold")

LEADERS = [
    ([(61, 21), (127, 21), (148, 47)], "black"),
    ([(96, 49), (113, 49), (140, 90)], DRED),
    ([(84, 82), (111, 82)], RED), ([(122, 85), (132, 104)], RED),
    ([(63, 105), (129, 105)], "#0000c8"),
    ([(86, 127), (125, 127), (150, 118)], "#6a5acd"),
    ([(95, 144), (132, 144), (139, 153)], RED),
    ([(97, 156), (107, 156)], HUMC), ([(124, 157), (138, 164)], HUMC),
    ([(84, 173), (104, 173)], "black"), ([(121, 174), (131, 181)], "black"),
    ([(67, 185), (124, 185), (132, 193)], GRN),
    ([(72, 196), (125, 196), (145, 182)], GRN),
    ([(62, 207), (100, 207)], BLU), ([(120, 205), (152, 180)], BLU),
    ([(72, 218), (124, 218), (155, 180)], BLU),
    ([(90, 230), (140, 230)], RED),
    ([(42, 270), (125, 270), (129, 267)], "black"),
    ([(99, 340), (108, 340)], RED), ([(122, 337), (132, 322)], RED),
    ([(98, 355), (127, 355), (140, 347)], RED),
    ([(82, 374), (129, 374)], NAVY),
    ([(78, 415), (130, 415)], NAVY),
    ([(93, 436), (140, 436), (180, 455)], "#a03232"),
    ([(50, 473), (125, 473), (183, 462)], "black"),
    ([(50, 486), (137, 486)], "#404040"),
    ([(50, 496), (125, 496), (137, 507)], "#909090"),
    ([(50, 507), (127, 507), (137, 510)], "#c8c8c8"),
    ([(63, 533), (122, 533), (167, 468)], ORANGE),
    ([(43, 577), (180, 577)], "#a8a8a8"),
    ([(38, 588), (118, 588)], "#404040"),
    ([(67, 600), (124, 600)], "black"),
    ([(23, 613), (203, 613), (212, 605)], "#e8b000"),
    ([(132, 630), (140, 630), (152, 618)], "black"),
]
for pts, c in LEADERS:
    polyline(pts, c, 1)
for y0, x1 in [(517.5, 137), (562.5, 210)]:
    polyline([(48, y0), (x1, y0)], SKY, 5)
    polyline([(48, y0), (x1, y0)], "white", 1)

layout["shapes"] = shapes
layout["annotations"] = annots
fig.update_layout(**layout)
fig.write_html("out.html")
